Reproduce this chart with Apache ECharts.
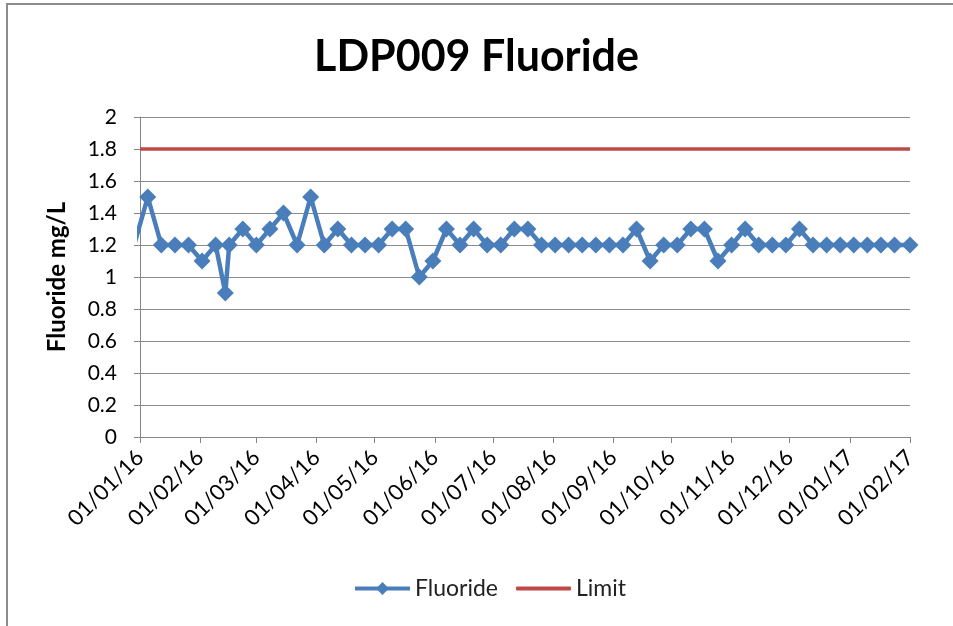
<!DOCTYPE html>
<html>
<head>
<meta charset="utf-8">
<script src="https://cdn.jsdelivr.net/npm/echarts@6/dist/echarts.min.js"></script>
<style>
  html, body { margin: 0; padding: 0; background: #fff; }
  #chart { width: 953px; height: 626px; }
</style>
</head>
<body>
<div id="chart"></div>
<script>
// sample dates (weekly) and fluoride readings, mg/L
const sampleDates = [
  '2015-12-29',
  '2016-01-05', '2016-01-12', '2016-01-19', '2016-01-26',
  '2016-02-02', '2016-02-09', '2016-02-14', '2016-02-16', '2016-02-23',
  '2016-03-01', '2016-03-08', '2016-03-15', '2016-03-22', '2016-03-29',
  '2016-04-05', '2016-04-12', '2016-04-19', '2016-04-26',
  '2016-05-03', '2016-05-10', '2016-05-17', '2016-05-24', '2016-05-31',
  '2016-06-07', '2016-06-14', '2016-06-21', '2016-06-28',
  '2016-07-05', '2016-07-12', '2016-07-19', '2016-07-26',
  '2016-08-02', '2016-08-09', '2016-08-16', '2016-08-23', '2016-08-30',
  '2016-09-06', '2016-09-13', '2016-09-20', '2016-09-27',
  '2016-10-04', '2016-10-11', '2016-10-18', '2016-10-25',
  '2016-11-01', '2016-11-08', '2016-11-15', '2016-11-22', '2016-11-29',
  '2016-12-06', '2016-12-13', '2016-12-20', '2016-12-27',
  '2017-01-03', '2017-01-10', '2017-01-17', '2017-01-24', '2017-02-01'
];
const fluoride = [
  1.2,
  1.5, 1.2, 1.2, 1.2,
  1.1, 1.2, 0.9, 1.2, 1.3,
  1.2, 1.3, 1.4, 1.2, 1.5,
  1.2, 1.3, 1.2, 1.2,
  1.2, 1.3, 1.3, 1.0, 1.1,
  1.3, 1.2, 1.3, 1.2,
  1.2, 1.3, 1.3, 1.2,
  1.2, 1.2, 1.2, 1.2, 1.2,
  1.2, 1.3, 1.1, 1.2,
  1.2, 1.3, 1.3, 1.1,
  1.2, 1.3, 1.2, 1.2, 1.2,
  1.3, 1.2, 1.2, 1.2,
  1.2, 1.2, 1.2, 1.2, 1.2
];
const limitDates = ['2016-01-01', '2017-02-01'];
const limit = [1.8, 1.8];

const fontFamily = 'Lato, "Open Sans", sans-serif';
const blue = '#4a7ebb';
const red = '#be4b48';

function pad(n) { return n < 10 ? '0' + n : '' + n; }
function fmtDate(v) {
  const d = new Date(v);
  return pad(d.getDate()) + '/' + pad(d.getMonth() + 1) + '/' + pad(d.getFullYear() % 100);
}

const legendText = { fontFamily: fontFamily, fontSize: 23, color: '#222' };

const chart = echarts.init(document.getElementById('chart'));

chart.setOption({
  animation: false,
  backgroundColor: '#fff',
  textStyle: { fontFamily: fontFamily },
  title: {
    text: 'LDP009 Fluoride',
    left: 'center',
    top: 31,
    textStyle: { fontFamily: fontFamily, fontSize: 43, fontWeight: 'bold', color: '#000' }
  },
  graphic: [{
    type: 'rect',
    shape: { x: 7, y: 4, width: 1000, height: 700 },
    style: { fill: 'none', stroke: '#8c8c8c', lineWidth: 2 },
    silent: true
  }],
  legend: [
    {
      left: 353,
      top: 577,
      padding: 0,
      itemWidth: 55,
      itemHeight: 16,
      itemGap: 4,
      lineStyle: { width: 4 },
      textStyle: legendText,
      data: ['Fluoride']
    },
    {
      left: 516,
      top: 577,
      padding: 0,
      itemWidth: 55,
      itemHeight: 4,
      textStyle: legendText,
      data: [{ name: 'Limit', icon: 'roundRect' }]
    }
  ],
  grid: { left: 140, right: 43, top: 117, bottom: 189 },
  xAxis: {
    type: 'time',
    min: '2016-01-01',
    max: '2017-02-01',
    minInterval: 28 * 86400000,
    maxInterval: 31 * 86400000,
    axisLine: { lineStyle: { color: '#868686', width: 1 } },
    axisTick: { show: true, length: 6, lineStyle: { color: '#868686' } },
    splitLine: { show: false },
    axisLabel: {
      rotate: 45,
      margin: 17,
      fontSize: 22,
      color: '#000',
      fontFamily: fontFamily,
      showMinLabel: true,
      showMaxLabel: true,
      hideOverlap: false,
      formatter: fmtDate
    }
  },
  yAxis: {
    type: 'value',
    min: 0,
    max: 2,
    interval: 0.2,
    name: 'Fluoride mg/L',
    nameLocation: 'middle',
    nameRotate: 90,
    nameGap: 71,
    nameTextStyle: { fontFamily: fontFamily, fontSize: 24, fontWeight: 'bold', color: '#000' },
    axisLine: { show: true, lineStyle: { color: '#868686', width: 1 } },
    axisTick: { show: true, length: 6, lineStyle: { color: '#868686' } },
    splitLine: { lineStyle: { color: '#8c8c8c', width: 1 } },
    axisLabel: {
      margin: 23,
      fontSize: 21,
      color: '#000',
      fontFamily: fontFamily,
      formatter: function (v) { return String(Math.round(v * 10) / 10); }
    }
  },
  series: [
    {
      name: 'Fluoride',
      type: 'line',
      clip: true,
      data: sampleDates.map((d, i) => [d, fluoride[i]]),
      symbol: 'diamond',
      symbolSize: 17,
      showAllSymbol: true,
      lineStyle: { color: blue, width: 4.5 },
      itemStyle: { color: blue },
      z: 3
    },
    {
      name: 'Limit',
      type: 'line',
      data: limitDates.map((d, i) => [d, limit[i]]),
      symbol: 'none',
      lineStyle: { color: red, width: 3.5 },
      itemStyle: { color: red },
      z: 2
    }
  ]
});
</script>
</body>
</html>
